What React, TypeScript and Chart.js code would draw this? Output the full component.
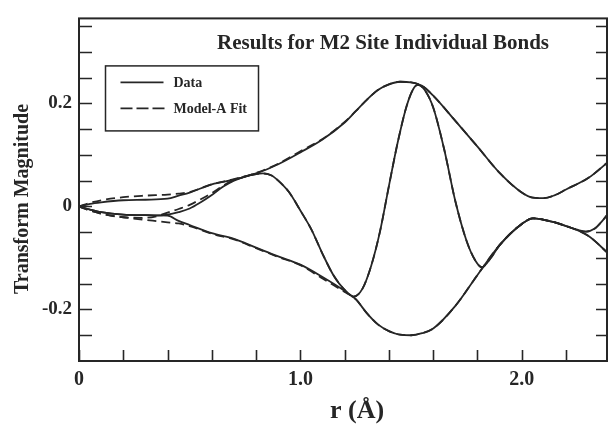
import React, { useEffect, useRef } from "react";
import { Chart, registerables } from "chart.js";

Chart.register(...registerables);

const FONT = '"Liberation Serif", "Times New Roman", serif';
const INK = "#262626";

const TITLE = "Results for M2 Site Individual Bonds";
const Y_TITLE = "Transform Magnitude";
const X_TITLE = "r (\u00C5)";
const LEGEND_LABELS = ["Data", "Model-A Fit"];

// x-tick labels (r, Å) and y-tick labels
const X_LABELS: Record<string, string> = { "0": "0", "10": "1.0", "20": "2.0" };
const Y_LABELS: Record<string, string> = { "20": "0.2", "0": "0", "-20": "-0.2" };

// Envelope (± magnitude) sampling positions, r in Å
const envR = [0, 0.05, 0.1, 0.2, 0.3, 0.4, 0.45, 0.5, 0.6, 0.7, 0.8, 0.9, 1.0, 1.1, 1.2, 1.25, 1.3, 1.35, 1.4, 1.45, 1.5, 1.55, 1.6, 1.7, 1.8, 1.9, 2.0, 2.05, 2.1, 2.15, 2.2, 2.3, 2.4];

const dataUpper = [0.0, 0.005, 0.008, 0.012, 0.013, 0.015, 0.021, 0.027, 0.043, 0.052, 0.064, 0.082, 0.105, 0.130, 0.163, 0.185, 0.207, 0.226, 0.237, 0.242, 0.241, 0.234, 0.215, 0.166, 0.116, 0.065, 0.027, 0.017, 0.016, 0.022, 0.033, 0.055, 0.090];
const dataLower = [0.0, -0.006, -0.011, -0.016, -0.017, -0.018, -0.028, -0.036, -0.052, -0.063, -0.080, -0.097, -0.113, -0.137, -0.164, -0.180, -0.207, -0.229, -0.242, -0.249, -0.250, -0.246, -0.237, -0.193, -0.133, -0.075, -0.034, -0.023, -0.026, -0.031, -0.038, -0.057, -0.095];

const fitUpper = [0.0, 0.007, 0.012, 0.018, 0.021, 0.023, 0.025, 0.028, 0.043, 0.053, 0.065, 0.083, 0.107, 0.131, 0.164, 0.185, 0.207, 0.226, 0.237, 0.242, 0.241, 0.234, 0.215, 0.166, 0.116, 0.065, 0.027, 0.017, 0.016, 0.022, 0.033, 0.055, 0.090];
const fitLower = [0.0, -0.008, -0.014, -0.021, -0.026, -0.031, -0.033, -0.038, -0.053, -0.064, -0.081, -0.098, -0.114, -0.140, -0.166, -0.180, -0.207, -0.229, -0.242, -0.249, -0.250, -0.246, -0.237, -0.193, -0.133, -0.075, -0.034, -0.023, -0.026, -0.031, -0.038, -0.057, -0.095];

// Real part sampling positions, r in Å
const realR = [0, 0.05, 0.1, 0.2, 0.3, 0.35, 0.4, 0.45, 0.5, 0.55, 0.6, 0.65, 0.7, 0.75, 0.8, 0.83, 0.87, 0.9, 0.95, 1.0, 1.05, 1.1, 1.15, 1.2, 1.24, 1.28, 1.32, 1.36, 1.4, 1.44, 1.48, 1.51, 1.53, 1.56, 1.6, 1.65, 1.7, 1.75, 1.79, 1.82, 1.86, 1.9, 2.0, 2.05, 2.1, 2.15, 2.2, 2.25, 2.29, 2.33, 2.36, 2.4];

const dataReal = [0.0, -0.006, -0.011, -0.016, -0.017, -0.018, -0.016, -0.011, -0.004, 0.008, 0.022, 0.038, 0.050, 0.058, 0.063, 0.064, 0.060, 0.050, 0.027, -0.008, -0.045, -0.092, -0.134, -0.162, -0.175, -0.160, -0.115, -0.048, 0.040, 0.125, 0.195, 0.228, 0.236, 0.227, 0.192, 0.110, 0.010, -0.066, -0.105, -0.118, -0.100, -0.075, -0.034, -0.023, -0.026, -0.031, -0.038, -0.045, -0.049, -0.043, -0.030, -0.008];
const fitReal = [0.0, -0.008, -0.014, -0.021, -0.022, -0.019, -0.012, -0.005, 0.003, 0.014, 0.026, 0.040, 0.051, 0.058, 0.063, 0.064, 0.060, 0.050, 0.027, -0.008, -0.045, -0.092, -0.134, -0.162, -0.175, -0.160, -0.115, -0.048, 0.040, 0.125, 0.195, 0.228, 0.236, 0.227, 0.192, 0.110, 0.010, -0.066, -0.105, -0.118, -0.100, -0.075, -0.034, -0.023, -0.026, -0.031, -0.038, -0.045, -0.049, -0.043, -0.030, -0.008];

const pts = (xs: number[], ys: number[]) => xs.map((x, i) => ({ x, y: ys[i] }));

export default function App() {
  const ref = useRef<HTMLCanvasElement>(null);

  useEffect(() => {
    const canvas = ref.current;
    if (!canvas) return;

    const solid = {
      borderColor: INK,
      backgroundColor: INK,
      borderWidth: 1.8,
      pointRadius: 0,
      fill: false,
      cubicInterpolationMode: "monotone" as const,
    };
    const dashed = { ...solid, borderDash: [9, 5] };

    const decor = {
      id: "decor",
      afterDraw(chart: any) {
        const { ctx, chartArea, scales } = chart;
        const { left, right, top, bottom } = chartArea;
        const xs = scales.x;
        const ys = scales.y;
        ctx.save();
        // frame
        ctx.strokeStyle = INK;
        ctx.lineWidth = 2;
        ctx.strokeRect(left, top, right - left, bottom - top);
        // inward tick marks
        ctx.lineWidth = 1.6;
        ctx.beginPath();
        ys.ticks.forEach((t: any) => {
          const py = Math.round(ys.getPixelForValue(t.value)) + 0.5;
          ctx.moveTo(left, py);
          ctx.lineTo(left + 13, py);
          ctx.moveTo(right, py);
          ctx.lineTo(right - 11, py);
        });
        xs.ticks.forEach((t: any) => {
          const px = Math.round(xs.getPixelForValue(t.value)) + 0.5;
          ctx.moveTo(px, bottom);
          ctx.lineTo(px, bottom - 11);
        });
        ctx.stroke();

        // title
        ctx.fillStyle = INK;
        ctx.font = `bold 21px ${FONT}`;
        ctx.textAlign = "left";
        ctx.textBaseline = "alphabetic";
        ctx.fillText(TITLE, left + 138, top + 31);

        // legend
        const lx = left + 26.5;
        const ly = top + 47.5;
        ctx.lineWidth = 1.5;
        ctx.strokeRect(lx, ly, 153, 65);
        ctx.lineWidth = 1.8;
        ctx.beginPath();
        ctx.moveTo(lx + 15, ly + 16.5);
        ctx.lineTo(lx + 58, ly + 16.5);
        ctx.stroke();
        ctx.setLineDash([12, 4]);
        ctx.beginPath();
        ctx.moveTo(lx + 15, ly + 42.5);
        ctx.lineTo(lx + 60, ly + 42.5);
        ctx.stroke();
        ctx.setLineDash([]);
        ctx.font = `bold 14px ${FONT}`;
        ctx.textBaseline = "middle";
        ctx.fillText(LEGEND_LABELS[0], lx + 68, ly + 17);
        ctx.fillText(LEGEND_LABELS[1], lx + 68, ly + 43);

        // axis titles
        ctx.font = `bold 20px ${FONT}`;
        ctx.textAlign = "center";
        ctx.save();
        ctx.translate(23, 199);
        ctx.rotate(-Math.PI / 2);
        ctx.textBaseline = "middle";
        ctx.fillText(Y_TITLE, 0, 0);
        ctx.restore();
        ctx.font = `bold 26px ${FONT}`;
        ctx.textBaseline = "alphabetic";
        ctx.fillText(X_TITLE, 357, 418);
        ctx.restore();
      },
    };

    const chart = new Chart(canvas, {
      type: "line",
      data: {
        datasets: [
          { label: "Data |F|+", data: pts(envR, dataUpper), ...solid },
          { label: "Data |F|-", data: pts(envR, dataLower), ...solid },
          { label: "Data Re", data: pts(realR, dataReal), ...solid },
          { label: "Fit |F|+", data: pts(envR, fitUpper), ...dashed },
          { label: "Fit |F|-", data: pts(envR, fitLower), ...dashed },
          { label: "Fit Re", data: pts(realR, fitReal), ...dashed },
        ],
      },
      options: {
        responsive: false,
        animation: false,
        devicePixelRatio: 1,
        layout: { padding: { left: 0, right: 1, top: 12, bottom: 0 } },
        plugins: {
          legend: { display: false },
          title: { display: false },
          tooltip: { enabled: false },
        },
        scales: {
          x: {
            type: "linear",
            min: 0,
            max: 2.385,
            grid: { display: false, drawTicks: false },
            border: { display: false },
            afterFit: (s: any) => {
              s.height = 63;
            },
            ticks: {
              stepSize: 0.2,
              includeBounds: false,
              autoSkip: false,
              maxRotation: 0,
              padding: 7,
              color: INK,
              font: { family: FONT, size: 20, weight: "bold" },
              callback: (v: any) => X_LABELS[String(Math.round(Number(v) * 10))] ?? "",
            },
          },
          y: {
            type: "linear",
            min: -0.3,
            max: 0.365,
            grid: { display: false, drawTicks: false },
            border: { display: false },
            afterFit: (s: any) => {
              s.width = 79;
            },
            ticks: {
              stepSize: 0.05,
              includeBounds: false,
              autoSkip: false,
              padding: 7,
              color: INK,
              font: { family: FONT, size: 19, weight: "bold" },
              callback: (v: any) => Y_LABELS[String(Math.round(Number(v) * 100))] ?? "",
            },
          },
        },
      },
      plugins: [decor],
    });

    return () => chart.destroy();
  }, []);

  return (
    <div style={{ position: "absolute", left: 0, top: 0, width: 608, height: 424, background: "#fff" }}>
      <canvas ref={ref} width={608} height={424} style={{ display: "block" }} />
    </div>
  );
}
